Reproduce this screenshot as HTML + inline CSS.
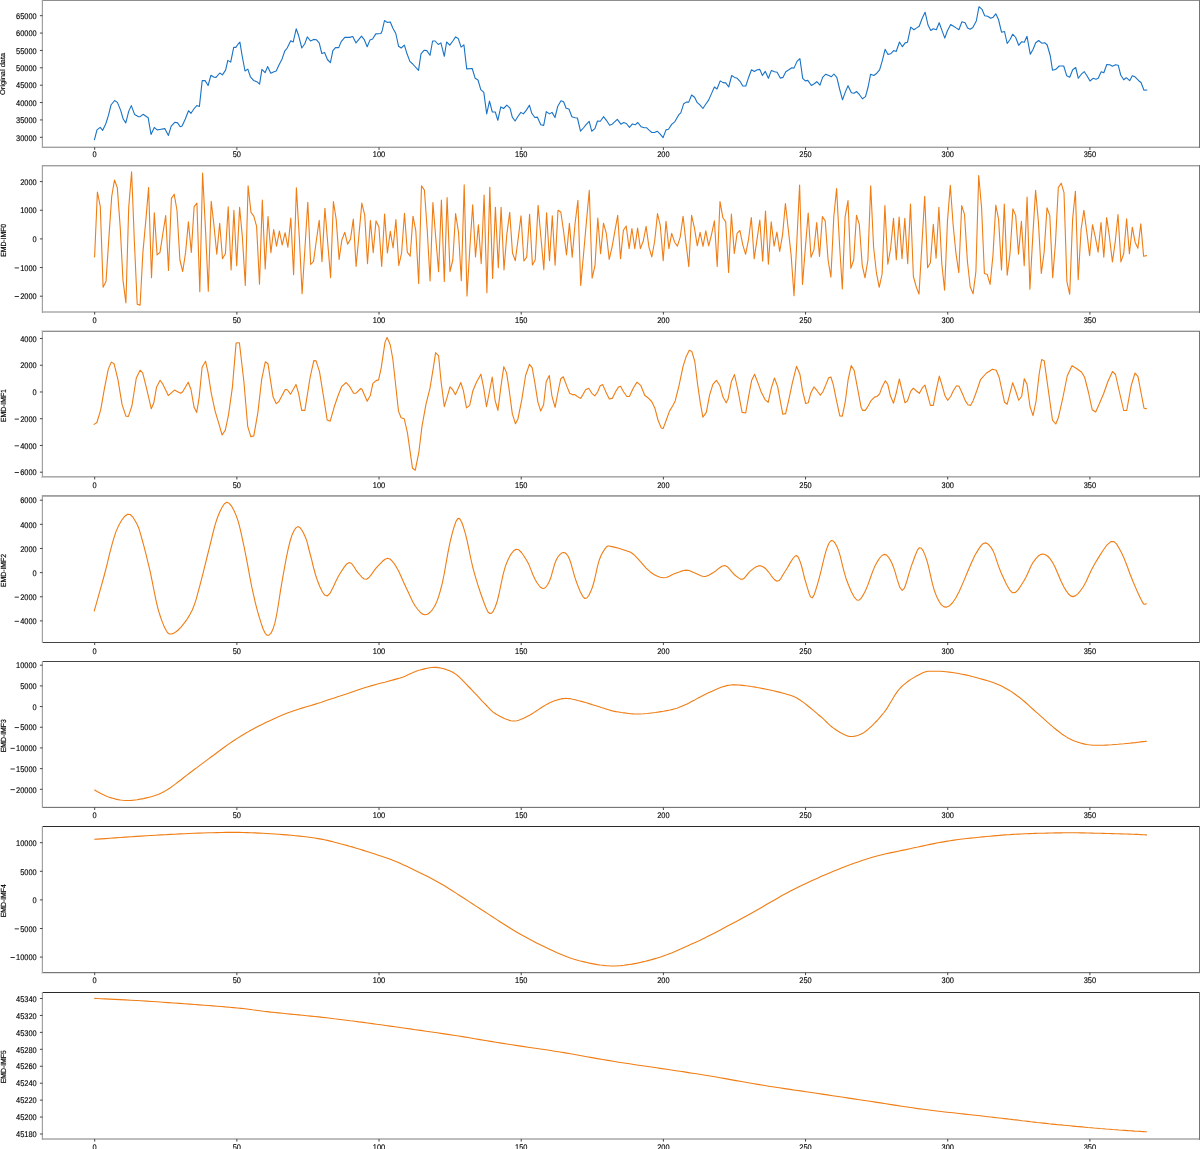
<!DOCTYPE html><html><head><meta charset="utf-8"><style>html,body{margin:0;padding:0;background:#fff;overflow:hidden;}svg{display:block;will-change:transform;}text{font-family:"Liberation Sans",sans-serif;text-rendering:geometricPrecision;}</style></head><body>
<svg shape-rendering="auto" width="1200" height="1149" viewBox="0 0 1200 1149">
<rect width="1200" height="1149" fill="#fff"/>
<path d="M94.4,139.8 L97.0,129.9 L100.2,127.4 L102.7,130.3 L105.9,123.5 L108.5,115.2 L111.0,105.0 L114.6,100.5 L117.4,102.4 L120.6,110.1 L123.2,119.0 L125.8,122.9 L128.7,111.4 L131.3,105.6 L134.7,114.6 L138.6,116.7 L140.2,116.7 L143.0,114.3 L148.2,117.8 L151.0,134.4 L154.3,127.4 L157.1,129.9 L159.7,129.5 L164.8,128.6 L168.4,135.4 L171.2,126.1 L175.0,122.2 L177.6,122.9 L180.2,126.7 L182.1,126.1 L185.3,119.0 L188.5,110.7 L191.0,113.3 L194.2,108.5 L196.8,105.6 L199.4,106.5 L202.2,80.6 L205.1,80.6 L208.1,85.5 L210.9,75.3 L214.1,77.2 L216.0,77.4 L219.8,73.0 L222.4,74.9 L225.6,70.1 L227.8,60.4 L230.7,62.1 L233.7,47.4 L235.8,47.4 L238.0,44.2 L239.9,42.2 L242.0,55.0 L245.0,71.0 L247.8,69.1 L250.4,76.8 L253.6,80.4 L256.8,81.7 L259.6,84.2 L261.9,69.4 L265.1,72.7 L267.6,66.6 L270.8,73.2 L273.4,71.9 L276.2,71.0 L279.2,64.6 L282.1,58.9 L284.7,51.2 L287.2,48.0 L290.7,40.7 L293.2,42.0 L296.2,28.8 L298.7,35.8 L301.8,48.0 L304.8,43.8 L307.3,36.9 L310.5,41.0 L313.7,39.4 L316.3,39.7 L319.2,42.9 L321.8,53.5 L324.6,52.5 L327.4,59.5 L330.4,62.7 L332.9,50.6 L335.5,47.6 L338.7,47.6 L341.2,41.6 L344.8,37.4 L349.6,37.4 L352.8,36.5 L356.0,42.9 L361.5,36.1 L364.3,39.7 L367.2,46.7 L370.0,39.9 L372.6,39.0 L375.8,33.9 L380.9,33.5 L382.2,30.7 L384.5,20.5 L387.1,22.4 L390.3,22.0 L392.9,28.2 L395.8,33.5 L398.6,46.3 L401.2,48.0 L404.4,45.1 L407.0,53.8 L409.9,61.4 L412.7,64.0 L418.5,70.4 L421.0,53.8 L424.2,50.2 L426.8,50.6 L430.0,55.3 L432.6,41.0 L435.1,41.0 L438.3,44.5 L440.9,42.9 L444.3,56.3 L446.6,42.0 L449.8,45.1 L453.0,40.7 L455.6,36.9 L458.2,38.4 L461.1,47.1 L463.9,44.8 L466.7,68.9 L472.2,68.5 L475.2,78.3 L478.0,80.0 L480.8,89.6 L483.8,92.4 L486.7,113.9 L489.5,101.1 L492.3,112.0 L495.3,112.0 L497.8,120.3 L500.8,106.9 L503.6,108.5 L506.8,105.2 L510.0,108.2 L512.3,117.1 L515.1,121.0 L517.9,116.5 L520.9,112.4 L523.4,113.9 L526.4,110.1 L529.4,105.2 L531.8,113.3 L534.8,117.5 L537.3,117.1 L540.8,124.8 L543.7,125.4 L546.3,111.6 L549.5,113.9 L552.0,112.4 L555.0,117.5 L557.8,106.2 L561.0,100.7 L563.6,101.8 L566.1,108.2 L568.9,109.0 L571.9,116.7 L575.1,117.8 L577.4,118.0 L580.5,131.2 L583.4,128.0 L586.3,124.4 L589.2,121.3 L591.7,131.2 L594.9,128.6 L597.5,121.0 L600.4,121.3 L603.5,116.7 L606.4,120.3 L609.6,125.2 L612.2,124.2 L617.3,119.3 L620.9,124.2 L623.7,122.6 L626.3,123.5 L629.5,127.4 L632.4,123.9 L635.2,124.8 L637.8,122.5 L641.0,126.7 L644.2,127.7 L646.5,127.7 L649.3,130.3 L651.9,132.5 L654.4,132.5 L657.2,131.2 L660.2,134.1 L663.1,137.6 L666.0,129.9 L668.5,129.3 L671.7,124.4 L674.9,121.6 L678.5,115.2 L680.9,112.6 L683.7,103.7 L686.2,102.1 L688.8,102.1 L691.6,95.0 L694.6,97.3 L697.1,102.4 L700.1,105.2 L702.9,108.5 L705.7,104.3 L708.6,100.1 L711.6,93.4 L714.4,87.0 L717.0,89.0 L720.2,80.9 L723.1,82.6 L725.7,82.9 L728.7,87.0 L731.7,75.5 L734.6,77.4 L737.2,78.3 L740.0,81.3 L742.8,86.0 L745.8,86.0 L748.3,78.3 L751.5,69.8 L754.3,71.4 L757.3,69.8 L759.8,69.4 L762.4,75.5 L765.3,71.4 L768.4,78.3 L771.4,70.4 L774.6,71.7 L777.1,72.3 L780.3,78.1 L782.9,77.4 L785.8,71.7 L788.9,69.8 L791.8,67.8 L794.0,68.1 L797.0,61.4 L799.9,58.6 L802.7,78.3 L805.3,80.9 L807.8,80.4 L811.4,85.5 L814.2,83.8 L816.8,81.7 L820.0,85.1 L822.6,77.4 L825.8,74.2 L828.8,75.5 L831.3,76.8 L833.9,74.0 L836.8,77.4 L839.6,89.0 L842.5,99.8 L845.4,91.9 L848.0,85.8 L851.4,92.8 L854.0,93.2 L856.5,91.5 L859.5,94.7 L862.4,98.8 L865.5,96.6 L868.1,87.0 L870.6,74.2 L873.9,75.5 L876.8,73.2 L879.6,69.8 L882.1,61.4 L885.1,49.3 L888.0,54.4 L890.6,53.8 L893.7,50.6 L896.2,51.5 L899.5,42.0 L902.4,46.7 L905.2,42.9 L907.5,42.2 L910.7,27.1 L913.9,29.7 L916.7,27.9 L919.2,26.2 L922.2,18.2 L925.1,12.2 L928.0,25.0 L930.8,30.5 L933.3,28.8 L936.3,29.7 L939.2,22.8 L942.3,31.4 L944.8,38.1 L947.4,30.7 L950.7,24.6 L953.6,26.2 L956.1,27.9 L958.9,29.7 L961.9,21.8 L965.1,22.8 L967.6,27.9 L970.2,29.2 L972.8,27.5 L976.3,21.0 L979.0,6.7 L982.0,9.3 L984.7,15.7 L987.7,16.2 L990.7,18.3 L993.2,17.2 L995.8,13.8 L998.5,19.5 L1001.5,32.2 L1004.5,31.5 L1007.2,43.5 L1010.2,39.3 L1012.7,34.2 L1015.7,37.5 L1018.7,45.3 L1021.7,41.7 L1024.3,42.3 L1027.0,36.3 L1030.3,54.3 L1033.0,49.5 L1035.7,42.7 L1038.7,40.5 L1041.7,43.2 L1044.7,42.7 L1047.2,45.0 L1050.2,55.5 L1052.5,70.2 L1055.8,69.3 L1059.2,66.0 L1063.7,66.0 L1066.7,75.7 L1069.7,77.2 L1072.7,69.7 L1075.7,67.5 L1078.3,78.3 L1081.3,74.2 L1084.3,71.7 L1087.0,75.7 L1090.0,81.0 L1093.0,78.3 L1096.0,79.2 L1098.2,78.3 L1101.2,71.7 L1103.8,72.7 L1106.8,64.5 L1109.8,64.8 L1112.5,66.3 L1115.5,64.8 L1118.2,65.2 L1120.7,75.0 L1123.7,79.8 L1126.3,77.7 L1129.7,80.7 L1132.3,75.7 L1135.0,76.8 L1138.7,80.7 L1141.0,82.5 L1144.0,90.3 L1147.0,90.0" fill="none" stroke="#1973c6" stroke-width="1.1" stroke-linejoin="round" stroke-linecap="round"/>
<rect x="41" y="0" width="1159" height="1" fill="rgb(142,142,142)"/>
<rect x="41" y="146" width="1159" height="1" fill="rgb(220,220,220)"/>
<rect x="41" y="147" width="1159" height="1" fill="rgb(160,160,160)"/>
<rect x="41" y="0" width="1" height="148" fill="rgb(236,236,236)"/>
<rect x="42" y="0" width="1" height="148" fill="rgb(160,160,160)"/>
<rect x="1199" y="0" width="1" height="148" fill="rgb(116,116,116)"/>
<line x1="39.9" y1="137.30" x2="42.5" y2="137.30" stroke="#333" stroke-width="0.9"/>
<text transform="translate(36.75,140.50) scale(0.07421,0.08200)" font-size="100" text-anchor="end" fill="#000" stroke="#000" stroke-width="1.6">30000</text>
<line x1="39.9" y1="119.93" x2="42.5" y2="119.93" stroke="#333" stroke-width="0.9"/>
<text transform="translate(36.75,123.13) scale(0.07421,0.08200)" font-size="100" text-anchor="end" fill="#000" stroke="#000" stroke-width="1.6">35000</text>
<line x1="39.9" y1="102.56" x2="42.5" y2="102.56" stroke="#333" stroke-width="0.9"/>
<text transform="translate(36.75,105.76) scale(0.07421,0.08200)" font-size="100" text-anchor="end" fill="#000" stroke="#000" stroke-width="1.6">40000</text>
<line x1="39.9" y1="85.19" x2="42.5" y2="85.19" stroke="#333" stroke-width="0.9"/>
<text transform="translate(36.75,88.39) scale(0.07421,0.08200)" font-size="100" text-anchor="end" fill="#000" stroke="#000" stroke-width="1.6">45000</text>
<line x1="39.9" y1="67.81" x2="42.5" y2="67.81" stroke="#333" stroke-width="0.9"/>
<text transform="translate(36.75,71.01) scale(0.07421,0.08200)" font-size="100" text-anchor="end" fill="#000" stroke="#000" stroke-width="1.6">50000</text>
<line x1="39.9" y1="50.44" x2="42.5" y2="50.44" stroke="#333" stroke-width="0.9"/>
<text transform="translate(36.75,53.64) scale(0.07421,0.08200)" font-size="100" text-anchor="end" fill="#000" stroke="#000" stroke-width="1.6">55000</text>
<line x1="39.9" y1="33.07" x2="42.5" y2="33.07" stroke="#333" stroke-width="0.9"/>
<text transform="translate(36.75,36.27) scale(0.07421,0.08200)" font-size="100" text-anchor="end" fill="#000" stroke="#000" stroke-width="1.6">60000</text>
<line x1="39.9" y1="15.70" x2="42.5" y2="15.70" stroke="#333" stroke-width="0.9"/>
<text transform="translate(36.75,18.90) scale(0.07421,0.08200)" font-size="100" text-anchor="end" fill="#000" stroke="#000" stroke-width="1.6">65000</text>
<line x1="94.68" y1="147.3" x2="94.68" y2="149.9" stroke="#333" stroke-width="0.9"/>
<text transform="translate(94.68,157.20) scale(0.07421,0.08200)" font-size="100" text-anchor="middle" fill="#000" stroke="#000" stroke-width="1.6">0</text>
<line x1="236.86" y1="147.3" x2="236.86" y2="149.9" stroke="#333" stroke-width="0.9"/>
<text transform="translate(236.86,157.20) scale(0.07421,0.08200)" font-size="100" text-anchor="middle" fill="#000" stroke="#000" stroke-width="1.6">50</text>
<line x1="379.03" y1="147.3" x2="379.03" y2="149.9" stroke="#333" stroke-width="0.9"/>
<text transform="translate(379.03,157.20) scale(0.07421,0.08200)" font-size="100" text-anchor="middle" fill="#000" stroke="#000" stroke-width="1.6">100</text>
<line x1="521.21" y1="147.3" x2="521.21" y2="149.9" stroke="#333" stroke-width="0.9"/>
<text transform="translate(521.21,157.20) scale(0.07421,0.08200)" font-size="100" text-anchor="middle" fill="#000" stroke="#000" stroke-width="1.6">150</text>
<line x1="663.38" y1="147.3" x2="663.38" y2="149.9" stroke="#333" stroke-width="0.9"/>
<text transform="translate(663.38,157.20) scale(0.07421,0.08200)" font-size="100" text-anchor="middle" fill="#000" stroke="#000" stroke-width="1.6">200</text>
<line x1="805.56" y1="147.3" x2="805.56" y2="149.9" stroke="#333" stroke-width="0.9"/>
<text transform="translate(805.56,157.20) scale(0.07421,0.08200)" font-size="100" text-anchor="middle" fill="#000" stroke="#000" stroke-width="1.6">250</text>
<line x1="947.73" y1="147.3" x2="947.73" y2="149.9" stroke="#333" stroke-width="0.9"/>
<text transform="translate(947.73,157.20) scale(0.07421,0.08200)" font-size="100" text-anchor="middle" fill="#000" stroke="#000" stroke-width="1.6">300</text>
<line x1="1089.90" y1="147.3" x2="1089.90" y2="149.9" stroke="#333" stroke-width="0.9"/>
<text transform="translate(1089.90,157.20) scale(0.07421,0.08200)" font-size="100" text-anchor="middle" fill="#000" stroke="#000" stroke-width="1.6">350</text>
<text transform="translate(5.2,73.90) rotate(-90) scale(0.0742,0.07)" font-size="100" text-anchor="middle" fill="#000" stroke="#000" stroke-width="2">Original data</text>
<path d="M94.6,256.9 L97.4,192.0 L100.3,206.7 L103.1,287.3 L106.0,281.6 L108.8,239.1 L111.7,196.5 L114.5,180.0 L117.3,187.6 L120.2,227.0 L123.0,280.4 L125.9,303.0 L128.7,207.9 L131.6,171.7 L134.4,242.2 L137.2,304.2 L140.1,305.1 L142.9,252.4 L145.8,220.6 L148.6,187.6 L151.5,277.8 L154.3,212.8 L157.1,254.9 L160.0,252.4 L162.8,234.0 L165.7,215.6 L168.5,270.4 L171.4,198.4 L174.2,194.2 L177.0,210.5 L179.9,260.0 L182.7,271.5 L185.6,252.4 L188.4,221.9 L191.3,252.4 L194.1,206.7 L196.9,203.1 L199.8,291.8 L202.6,173.0 L205.5,229.5 L208.3,291.2 L211.2,201.3 L214.0,225.7 L216.8,254.3 L219.7,223.2 L222.5,258.8 L225.4,253.7 L228.2,206.9 L231.1,269.9 L233.9,210.2 L236.7,265.7 L239.6,207.3 L242.4,237.2 L245.3,285.4 L248.1,185.7 L251.0,212.4 L253.8,216.2 L256.6,226.4 L259.5,284.2 L262.3,200.1 L265.2,268.9 L268.0,216.6 L270.9,252.7 L273.7,229.5 L276.5,246.1 L279.4,231.1 L282.2,245.0 L285.1,232.7 L287.9,247.3 L290.8,218.1 L293.6,274.6 L296.4,187.9 L299.3,237.2 L302.1,293.7 L305.0,247.3 L307.8,202.2 L310.7,264.5 L313.5,261.3 L316.3,241.0 L319.2,220.4 L322.0,261.6 L324.9,208.2 L327.7,242.9 L330.6,277.6 L333.4,201.6 L336.2,219.4 L339.1,259.4 L341.9,239.7 L344.8,232.3 L347.6,244.1 L350.5,239.1 L353.3,219.1 L356.1,266.4 L359.0,234.6 L361.8,203.1 L364.7,214.9 L367.5,263.6 L370.4,220.6 L373.2,252.7 L376.0,220.9 L378.9,226.7 L381.7,266.4 L384.6,214.0 L387.4,253.0 L390.3,231.4 L393.1,248.0 L395.9,219.6 L398.8,265.4 L401.6,253.0 L404.5,213.3 L407.3,252.1 L410.2,256.2 L413.0,216.2 L415.8,230.8 L418.7,283.5 L421.5,185.7 L424.4,190.1 L427.2,229.5 L430.1,281.0 L432.9,202.6 L435.7,237.2 L438.6,271.7 L441.4,200.1 L444.3,281.4 L447.1,197.5 L450.0,271.7 L452.8,260.0 L455.6,213.6 L458.5,232.1 L461.3,280.6 L464.2,184.8 L467.0,295.9 L469.9,247.3 L472.7,204.8 L475.5,256.9 L478.4,224.7 L481.2,263.6 L484.1,195.0 L486.9,292.8 L489.8,187.3 L492.6,278.5 L495.4,207.3 L498.3,267.7 L501.1,207.3 L504.0,269.9 L506.8,234.6 L509.7,212.4 L512.5,253.0 L515.3,260.7 L518.2,238.4 L521.0,215.8 L523.9,261.0 L526.7,257.2 L529.6,214.3 L532.4,264.9 L535.2,260.0 L538.1,205.4 L540.9,237.2 L543.8,269.6 L546.6,212.8 L549.5,260.7 L552.3,215.8 L555.1,265.1 L558.0,210.2 L560.8,212.0 L563.7,232.1 L566.5,254.9 L569.4,223.4 L572.2,257.2 L575.1,223.2 L577.9,200.3 L580.7,285.4 L583.6,253.7 L586.4,221.9 L589.3,190.4 L592.1,278.1 L595.0,265.7 L597.8,218.1 L600.6,253.7 L603.5,223.2 L606.3,233.3 L609.2,259.4 L612.0,247.3 L614.9,230.8 L617.7,215.3 L620.5,258.8 L623.4,230.2 L626.2,226.0 L629.1,248.6 L631.9,228.5 L634.8,248.6 L637.6,228.0 L640.4,248.6 L643.3,241.0 L646.1,226.4 L649.0,247.3 L651.8,256.9 L654.7,241.0 L657.5,213.6 L660.3,225.7 L663.2,260.7 L666.0,221.3 L668.9,248.6 L671.7,233.3 L674.6,242.2 L677.4,246.1 L680.2,237.2 L683.1,216.2 L685.9,242.2 L688.8,266.6 L691.6,215.3 L694.5,228.3 L697.3,245.8 L700.1,232.3 L703.0,246.3 L705.8,230.8 L708.7,245.8 L711.5,234.6 L714.4,220.9 L717.2,266.4 L720.0,201.6 L722.9,217.8 L725.7,221.9 L728.6,272.5 L731.4,214.0 L734.3,253.4 L737.1,233.3 L739.9,230.5 L742.8,244.8 L745.6,254.3 L748.5,239.7 L751.3,217.5 L754.2,258.8 L757.0,239.7 L759.8,220.0 L762.7,261.3 L765.5,211.1 L768.4,264.1 L771.2,221.9 L774.1,246.1 L776.9,232.1 L779.7,251.4 L782.6,234.6 L785.4,203.5 L788.3,229.5 L791.1,254.9 L794.0,295.6 L796.8,242.2 L799.6,185.1 L802.5,284.4 L805.3,248.6 L808.2,213.0 L811.0,257.2 L813.9,249.9 L816.7,222.5 L819.5,256.5 L822.4,216.6 L825.2,220.9 L828.1,260.0 L830.9,277.2 L833.8,216.8 L836.6,188.6 L839.4,242.2 L842.3,289.0 L845.1,216.8 L848.0,200.6 L850.8,268.3 L853.7,260.0 L856.5,215.3 L859.3,224.4 L862.2,265.1 L865.0,277.8 L867.9,260.0 L870.7,185.7 L873.6,247.3 L876.4,272.7 L879.2,287.3 L882.1,274.0 L884.9,205.6 L887.8,264.1 L890.6,248.6 L893.5,218.4 L896.3,259.8 L899.1,217.1 L902.0,258.8 L904.8,218.4 L907.7,263.6 L910.5,204.1 L913.4,276.5 L916.2,286.7 L919.0,294.1 L921.9,244.8 L924.7,196.2 L927.6,267.7 L930.4,262.8 L933.3,224.2 L936.1,258.1 L938.9,207.3 L941.8,263.8 L944.6,290.3 L947.5,220.6 L950.3,185.3 L953.2,225.7 L956.0,253.7 L958.8,272.7 L961.7,205.6 L964.5,214.3 L967.4,261.3 L970.2,286.7 L973.1,293.7 L975.9,271.5 L978.7,175.5 L981.6,207.9 L984.4,273.4 L987.3,274.6 L990.1,284.4 L993.0,254.9 L995.8,205.1 L998.6,219.4 L1001.5,269.9 L1004.3,204.1 L1007.2,275.3 L1010.0,253.7 L1012.9,208.9 L1015.7,215.6 L1018.5,254.3 L1021.4,221.3 L1024.2,265.7 L1027.1,197.1 L1029.9,289.3 L1032.8,235.9 L1035.6,190.4 L1038.4,221.9 L1041.3,273.4 L1044.1,252.4 L1047.0,207.7 L1049.8,215.6 L1052.7,277.8 L1055.5,242.2 L1058.3,187.6 L1061.2,183.2 L1064.0,192.7 L1066.9,281.6 L1069.7,294.3 L1072.6,219.4 L1075.4,191.2 L1078.2,279.7 L1081.1,229.5 L1083.9,210.2 L1086.8,232.1 L1089.6,255.6 L1092.5,224.7 L1095.3,237.2 L1098.1,252.1 L1101.0,222.5 L1103.8,257.2 L1106.7,217.5 L1109.5,237.2 L1112.4,261.9 L1115.2,242.2 L1118.0,214.5 L1120.9,261.9 L1123.7,253.7 L1126.6,218.7 L1129.4,253.7 L1132.3,227.2 L1135.1,242.2 L1137.9,248.3 L1140.8,223.8 L1143.6,256.2 L1146.5,255.6" fill="none" stroke="#f07d14" stroke-width="1.1" stroke-linejoin="round" stroke-linecap="round"/>
<rect x="41" y="165" width="1159" height="1" fill="rgb(160,160,160)"/>
<rect x="41" y="166" width="1159" height="1" fill="rgb(215,215,215)"/>
<rect x="41" y="311" width="1159" height="1" fill="rgb(192,192,192)"/>
<rect x="41" y="312" width="1159" height="1" fill="rgb(192,192,192)"/>
<rect x="41" y="165" width="1" height="148" fill="rgb(236,236,236)"/>
<rect x="42" y="165" width="1" height="148" fill="rgb(160,160,160)"/>
<rect x="1199" y="165" width="1" height="148" fill="rgb(116,116,116)"/>
<line x1="39.9" y1="296.20" x2="42.5" y2="296.20" stroke="#333" stroke-width="0.9"/>
<text transform="translate(36.75,299.40) scale(0.07421,0.08200)" font-size="100" text-anchor="end" fill="#000" stroke="#000" stroke-width="1.6">2000</text>
<rect x="14.65" y="296.15" width="4.3" height="0.85" fill="#111"/>
<line x1="39.9" y1="267.55" x2="42.5" y2="267.55" stroke="#333" stroke-width="0.9"/>
<text transform="translate(36.75,270.75) scale(0.07421,0.08200)" font-size="100" text-anchor="end" fill="#000" stroke="#000" stroke-width="1.6">1000</text>
<rect x="14.65" y="267.50" width="4.3" height="0.85" fill="#111"/>
<line x1="39.9" y1="238.90" x2="42.5" y2="238.90" stroke="#333" stroke-width="0.9"/>
<text transform="translate(36.75,242.10) scale(0.07421,0.08200)" font-size="100" text-anchor="end" fill="#000" stroke="#000" stroke-width="1.6">0</text>
<line x1="39.9" y1="210.25" x2="42.5" y2="210.25" stroke="#333" stroke-width="0.9"/>
<text transform="translate(36.75,213.45) scale(0.07421,0.08200)" font-size="100" text-anchor="end" fill="#000" stroke="#000" stroke-width="1.6">1000</text>
<line x1="39.9" y1="181.60" x2="42.5" y2="181.60" stroke="#333" stroke-width="0.9"/>
<text transform="translate(36.75,184.80) scale(0.07421,0.08200)" font-size="100" text-anchor="end" fill="#000" stroke="#000" stroke-width="1.6">2000</text>
<line x1="94.68" y1="312.0" x2="94.68" y2="314.6" stroke="#333" stroke-width="0.9"/>
<text transform="translate(94.68,323.00) scale(0.07421,0.08200)" font-size="100" text-anchor="middle" fill="#000" stroke="#000" stroke-width="1.6">0</text>
<line x1="236.86" y1="312.0" x2="236.86" y2="314.6" stroke="#333" stroke-width="0.9"/>
<text transform="translate(236.86,323.00) scale(0.07421,0.08200)" font-size="100" text-anchor="middle" fill="#000" stroke="#000" stroke-width="1.6">50</text>
<line x1="379.03" y1="312.0" x2="379.03" y2="314.6" stroke="#333" stroke-width="0.9"/>
<text transform="translate(379.03,323.00) scale(0.07421,0.08200)" font-size="100" text-anchor="middle" fill="#000" stroke="#000" stroke-width="1.6">100</text>
<line x1="521.21" y1="312.0" x2="521.21" y2="314.6" stroke="#333" stroke-width="0.9"/>
<text transform="translate(521.21,323.00) scale(0.07421,0.08200)" font-size="100" text-anchor="middle" fill="#000" stroke="#000" stroke-width="1.6">150</text>
<line x1="663.38" y1="312.0" x2="663.38" y2="314.6" stroke="#333" stroke-width="0.9"/>
<text transform="translate(663.38,323.00) scale(0.07421,0.08200)" font-size="100" text-anchor="middle" fill="#000" stroke="#000" stroke-width="1.6">200</text>
<line x1="805.56" y1="312.0" x2="805.56" y2="314.6" stroke="#333" stroke-width="0.9"/>
<text transform="translate(805.56,323.00) scale(0.07421,0.08200)" font-size="100" text-anchor="middle" fill="#000" stroke="#000" stroke-width="1.6">250</text>
<line x1="947.73" y1="312.0" x2="947.73" y2="314.6" stroke="#333" stroke-width="0.9"/>
<text transform="translate(947.73,323.00) scale(0.07421,0.08200)" font-size="100" text-anchor="middle" fill="#000" stroke="#000" stroke-width="1.6">300</text>
<line x1="1089.90" y1="312.0" x2="1089.90" y2="314.6" stroke="#333" stroke-width="0.9"/>
<text transform="translate(1089.90,323.00) scale(0.07421,0.08200)" font-size="100" text-anchor="middle" fill="#000" stroke="#000" stroke-width="1.6">350</text>
<text transform="translate(6.0,240.35) rotate(-90) scale(0.068,0.074)" font-size="100" text-anchor="middle" fill="#000" stroke="#000" stroke-width="2">EMD-IMF0</text>
<path d="M94.1,424.4 L96.9,422.5 L100.7,409.8 L104.5,388.2 L108.3,369.1 L111.3,362.1 L114.1,363.8 L117.9,379.3 L122.1,404.7 L125.9,416.2 L128.4,416.4 L131.9,406.0 L136.3,378.0 L140.1,370.2 L142.7,372.9 L147.1,390.7 L151.3,408.8 L153.8,402.8 L156.6,386.9 L160.1,380.3 L163.0,384.4 L168.3,395.6 L174.4,390.1 L180.5,393.3 L182.7,391.8 L188.2,382.2 L191.0,389.5 L194.1,407.3 L196.7,412.4 L199.2,397.1 L202.1,367.2 L205.6,361.3 L208.1,372.9 L211.3,393.3 L215.1,411.1 L218.9,423.8 L222.1,435.0 L225.3,430.1 L228.5,414.9 L232.3,388.2 L236.1,343.1 L238.0,342.7 L239.4,342.7 L243.9,381.8 L247.7,426.3 L250.9,436.8 L253.8,435.9 L257.9,412.4 L261.7,379.3 L265.3,361.8 L268.0,363.8 L273.1,397.1 L276.3,403.7 L278.9,401.5 L285.2,389.5 L287.4,389.7 L290.5,394.2 L296.0,384.4 L298.6,393.3 L301.7,410.4 L304.9,410.4 L310.0,378.0 L313.8,360.6 L316.1,360.9 L319.5,371.7 L324.0,399.6 L327.2,420.0 L330.1,421.3 L334.1,407.3 L338.0,395.8 L341.8,386.3 L346.2,382.5 L350.0,386.9 L353.5,393.3 L355.8,393.3 L360.8,388.5 L362.1,389.5 L367.2,401.2 L370.4,395.2 L372.9,383.4 L376.1,380.6 L378.6,379.9 L381.2,367.9 L385.0,342.4 L387.1,337.4 L390.3,345.0 L392.8,359.0 L395.3,381.8 L398.5,411.1 L401.1,417.7 L404.2,418.7 L407.4,432.7 L412.5,468.3 L415.3,470.2 L418.9,451.8 L422.0,426.3 L425.9,404.7 L430.0,388.2 L433.5,366.6 L435.6,352.6 L438.6,355.8 L441.1,381.8 L444.3,406.6 L446.8,398.4 L450.0,386.9 L452.5,389.5 L455.5,394.6 L460.8,382.5 L463.4,390.7 L466.5,407.9 L469.7,405.4 L472.9,390.7 L476.7,381.8 L480.9,374.2 L483.7,388.2 L486.5,406.6 L489.4,392.0 L492.2,377.0 L495.1,400.3 L497.9,410.4 L500.9,386.9 L503.8,366.6 L506.6,372.9 L509.1,389.5 L512.3,413.6 L515.5,423.8 L518.0,418.7 L521.8,399.6 L525.6,375.5 L529.5,364.3 L532.2,367.9 L534.7,381.8 L537.9,402.2 L540.7,411.1 L543.6,404.7 L546.2,381.8 L549.3,375.5 L551.9,395.8 L555.1,407.3 L558.0,392.0 L560.8,378.7 L563.3,376.8 L567.1,386.9 L569.7,393.3 L572.2,394.6 L574.8,394.6 L577.3,396.5 L580.5,398.4 L583.0,394.6 L585.6,389.7 L588.7,388.2 L591.9,393.3 L594.8,395.8 L597.6,392.0 L600.2,385.7 L602.7,384.6 L605.9,392.0 L609.3,399.0 L612.3,398.4 L615.4,392.0 L618.6,386.9 L620.5,386.3 L623.7,392.0 L626.9,396.5 L629.4,396.5 L633.2,388.2 L637.0,382.1 L640.9,385.7 L644.7,395.2 L647.9,397.7 L651.7,401.5 L654.8,407.9 L658.0,420.0 L661.2,427.9 L663.1,428.6 L666.3,420.0 L669.5,411.1 L672.6,406.0 L675.2,400.9 L679.0,385.7 L683.0,366.6 L686.2,356.4 L689.3,350.3 L691.9,351.6 L694.8,361.5 L697.6,384.4 L700.2,402.2 L702.9,417.2 L706.3,412.4 L709.7,394.6 L712.9,384.4 L716.4,380.3 L719.9,385.7 L723.0,397.1 L726.2,402.8 L728.1,399.0 L731.3,381.8 L734.5,374.5 L738.3,392.0 L742.1,412.4 L745.7,413.0 L748.5,397.1 L751.6,380.6 L754.6,374.2 L758.0,383.1 L761.2,392.0 L765.0,399.6 L768.2,402.4 L771.3,388.2 L774.5,378.0 L777.7,386.9 L782.8,414.3 L785.6,413.6 L789.1,398.4 L792.3,383.1 L796.5,366.3 L799.9,374.2 L802.5,390.7 L805.7,403.5 L808.2,402.8 L810.7,393.3 L813.9,386.9 L817.1,390.7 L820.3,395.2 L822.8,392.0 L826.0,384.4 L828.7,377.8 L830.9,377.0 L833.2,384.4 L836.3,399.6 L839.8,415.9 L842.3,416.2 L845.2,402.2 L848.2,379.3 L851.2,365.6 L854.1,370.2 L857.3,386.9 L861.1,407.3 L862.7,410.4 L865.3,410.4 L868.1,406.0 L871.3,400.3 L874.5,397.1 L877.0,396.5 L879.6,393.9 L882.1,386.9 L885.3,380.8 L887.8,384.4 L890.4,395.8 L893.5,403.2 L896.5,392.0 L899.3,379.0 L902.1,390.7 L905.0,402.8 L907.5,400.9 L910.7,391.4 L913.3,388.2 L916.4,391.0 L919.4,393.3 L922.1,388.2 L924.9,385.0 L927.9,395.8 L930.4,405.4 L933.3,405.4 L936.1,390.7 L939.3,376.1 L942.5,386.9 L945.0,395.8 L947.6,400.3 L950.7,396.5 L953.3,390.7 L956.5,385.7 L959.0,386.3 L962.2,393.3 L965.4,400.9 L967.9,404.7 L970.5,405.4 L973.0,400.9 L976.7,391.0 L980.5,379.7 L986.5,373.0 L992.5,369.2 L996.2,370.3 L999.2,377.5 L1004.5,402.2 L1007.2,404.2 L1012.7,382.7 L1015.7,391.0 L1018.7,400.3 L1021.7,396.2 L1024.3,378.7 L1027.0,384.2 L1030.0,406.7 L1033.0,415.7 L1036.0,401.5 L1039.3,373.0 L1041.7,359.5 L1044.2,360.7 L1048.0,388.0 L1052.5,420.2 L1055.8,424.0 L1058.5,417.2 L1063.0,397.0 L1067.2,376.0 L1072.0,365.8 L1076.5,368.5 L1081.7,372.2 L1084.7,377.5 L1088.5,392.5 L1092.2,409.7 L1095.7,412.0 L1099.0,404.5 L1103.5,394.0 L1108.0,381.2 L1112.5,371.5 L1115.5,374.5 L1119.2,391.0 L1123.7,410.5 L1126.7,410.5 L1131.2,385.7 L1135.0,373.0 L1138.0,376.7 L1141.0,392.5 L1144.0,408.2 L1146.7,408.7" fill="none" stroke="#f07d14" stroke-width="1.1" stroke-linejoin="round" stroke-linecap="round"/>
<rect x="41" y="330" width="1159" height="1" fill="rgb(215,215,215)"/>
<rect x="41" y="331" width="1159" height="1" fill="rgb(144,144,144)"/>
<rect x="41" y="476" width="1159" height="1" fill="rgb(170,170,170)"/>
<rect x="41" y="477" width="1159" height="1" fill="rgb(205,205,205)"/>
<rect x="41" y="331" width="1" height="146" fill="rgb(236,236,236)"/>
<rect x="42" y="331" width="1" height="146" fill="rgb(160,160,160)"/>
<rect x="1199" y="331" width="1" height="146" fill="rgb(116,116,116)"/>
<line x1="39.9" y1="472.20" x2="42.5" y2="472.20" stroke="#333" stroke-width="0.9"/>
<text transform="translate(36.75,475.40) scale(0.07421,0.08200)" font-size="100" text-anchor="end" fill="#000" stroke="#000" stroke-width="1.6">6000</text>
<rect x="14.65" y="472.15" width="4.3" height="0.85" fill="#111"/>
<line x1="39.9" y1="445.46" x2="42.5" y2="445.46" stroke="#333" stroke-width="0.9"/>
<text transform="translate(36.75,448.66) scale(0.07421,0.08200)" font-size="100" text-anchor="end" fill="#000" stroke="#000" stroke-width="1.6">4000</text>
<rect x="14.65" y="445.41" width="4.3" height="0.85" fill="#111"/>
<line x1="39.9" y1="418.72" x2="42.5" y2="418.72" stroke="#333" stroke-width="0.9"/>
<text transform="translate(36.75,421.92) scale(0.07421,0.08200)" font-size="100" text-anchor="end" fill="#000" stroke="#000" stroke-width="1.6">2000</text>
<rect x="14.65" y="418.67" width="4.3" height="0.85" fill="#111"/>
<line x1="39.9" y1="391.98" x2="42.5" y2="391.98" stroke="#333" stroke-width="0.9"/>
<text transform="translate(36.75,395.18) scale(0.07421,0.08200)" font-size="100" text-anchor="end" fill="#000" stroke="#000" stroke-width="1.6">0</text>
<line x1="39.9" y1="365.24" x2="42.5" y2="365.24" stroke="#333" stroke-width="0.9"/>
<text transform="translate(36.75,368.44) scale(0.07421,0.08200)" font-size="100" text-anchor="end" fill="#000" stroke="#000" stroke-width="1.6">2000</text>
<line x1="39.9" y1="338.50" x2="42.5" y2="338.50" stroke="#333" stroke-width="0.9"/>
<text transform="translate(36.75,341.70) scale(0.07421,0.08200)" font-size="100" text-anchor="end" fill="#000" stroke="#000" stroke-width="1.6">4000</text>
<line x1="94.68" y1="476.9" x2="94.68" y2="479.5" stroke="#333" stroke-width="0.9"/>
<text transform="translate(94.68,487.90) scale(0.07421,0.08200)" font-size="100" text-anchor="middle" fill="#000" stroke="#000" stroke-width="1.6">0</text>
<line x1="236.86" y1="476.9" x2="236.86" y2="479.5" stroke="#333" stroke-width="0.9"/>
<text transform="translate(236.86,487.90) scale(0.07421,0.08200)" font-size="100" text-anchor="middle" fill="#000" stroke="#000" stroke-width="1.6">50</text>
<line x1="379.03" y1="476.9" x2="379.03" y2="479.5" stroke="#333" stroke-width="0.9"/>
<text transform="translate(379.03,487.90) scale(0.07421,0.08200)" font-size="100" text-anchor="middle" fill="#000" stroke="#000" stroke-width="1.6">100</text>
<line x1="521.21" y1="476.9" x2="521.21" y2="479.5" stroke="#333" stroke-width="0.9"/>
<text transform="translate(521.21,487.90) scale(0.07421,0.08200)" font-size="100" text-anchor="middle" fill="#000" stroke="#000" stroke-width="1.6">150</text>
<line x1="663.38" y1="476.9" x2="663.38" y2="479.5" stroke="#333" stroke-width="0.9"/>
<text transform="translate(663.38,487.90) scale(0.07421,0.08200)" font-size="100" text-anchor="middle" fill="#000" stroke="#000" stroke-width="1.6">200</text>
<line x1="805.56" y1="476.9" x2="805.56" y2="479.5" stroke="#333" stroke-width="0.9"/>
<text transform="translate(805.56,487.90) scale(0.07421,0.08200)" font-size="100" text-anchor="middle" fill="#000" stroke="#000" stroke-width="1.6">250</text>
<line x1="947.73" y1="476.9" x2="947.73" y2="479.5" stroke="#333" stroke-width="0.9"/>
<text transform="translate(947.73,487.90) scale(0.07421,0.08200)" font-size="100" text-anchor="middle" fill="#000" stroke="#000" stroke-width="1.6">300</text>
<line x1="1089.90" y1="476.9" x2="1089.90" y2="479.5" stroke="#333" stroke-width="0.9"/>
<text transform="translate(1089.90,487.90) scale(0.07421,0.08200)" font-size="100" text-anchor="middle" fill="#000" stroke="#000" stroke-width="1.6">350</text>
<text transform="translate(6.0,405.60) rotate(-90) scale(0.068,0.074)" font-size="100" text-anchor="middle" fill="#000" stroke="#000" stroke-width="2">EMD-IMF1</text>
<path d="M94.2,611.0 L96.0,604.8 L98.5,595.9 L101.4,585.7 L104.2,575.5 L107.0,564.7 L109.8,552.9 L112.8,541.6 L115.7,532.4 L118.7,525.4 L121.8,520.0 L124.8,516.2 L127.6,514.2 L130.2,514.5 L132.6,516.8 L134.8,520.2 L136.8,523.8 L138.4,527.2 L139.7,531.1 L141.0,535.6 L142.5,541.0 L144.3,547.6 L146.2,555.2 L148.2,563.3 L150.2,571.7 L152.1,580.8 L154.0,590.5 L155.9,599.9 L157.8,608.1 L159.8,614.8 L161.8,620.6 L163.7,625.4 L165.5,629.2 L167.0,631.8 L168.3,633.3 L169.6,634.0 L171.3,634.0 L173.4,633.4 L175.7,632.0 L178.2,630.0 L180.8,627.3 L183.6,623.9 L186.7,619.8 L189.6,615.1 L192.3,610.0 L194.4,604.6 L196.3,598.9 L198.0,592.4 L200.0,585.1 L202.3,576.2 L204.8,566.2 L207.3,556.0 L209.6,546.8 L211.6,538.6 L213.5,531.0 L215.3,524.1 L217.3,518.0 L219.5,512.5 L221.9,507.5 L224.4,503.8 L226.8,502.3 L229.2,503.3 L231.7,506.3 L234.1,510.8 L236.4,516.1 L238.5,522.4 L240.4,529.8 L242.2,538.1 L244.1,546.8 L246.0,556.4 L248.0,566.9 L249.9,577.4 L251.8,587.0 L253.7,595.6 L255.6,603.8 L257.5,611.2 L259.4,617.7 L261.3,623.7 L263.2,629.2 L265.2,633.3 L267.1,635.3 L269.0,635.2 L271.0,633.2 L272.9,629.3 L274.8,623.4 L276.7,614.5 L278.6,603.0 L280.5,590.7 L282.4,579.3 L284.3,568.8 L286.2,558.3 L288.2,548.8 L290.1,541.0 L292.0,535.1 L294.0,530.7 L295.9,527.9 L297.8,526.6 L299.8,527.4 L301.8,530.0 L303.7,533.6 L305.4,537.2 L306.7,540.6 L307.7,544.3 L308.7,548.5 L310.0,553.5 L311.7,559.9 L313.5,567.5 L315.6,575.0 L317.7,581.3 L319.9,586.7 L322.3,591.7 L324.7,595.1 L327.3,596.0 L330.1,593.2 L333.0,587.5 L336.0,580.9 L338.8,575.5 L341.5,571.2 L344.2,567.1 L346.8,563.9 L349.3,562.5 L351.6,563.5 L353.7,566.3 L355.8,569.8 L357.9,572.6 L360.0,575.0 L362.1,577.4 L364.2,579.0 L366.5,579.3 L369.0,577.5 L371.7,574.1 L374.4,570.2 L377.1,566.9 L379.8,564.1 L382.5,561.3 L385.1,559.2 L387.6,558.3 L389.9,559.0 L392.0,560.8 L394.1,563.5 L396.3,566.9 L398.6,571.1 L401.0,576.3 L403.4,581.8 L405.8,587.0 L408.2,592.1 L410.6,597.3 L413.0,602.2 L415.4,606.2 L417.8,609.5 L420.2,612.2 L422.6,614.1 L425.0,614.8 L427.4,614.2 L429.9,612.5 L432.3,609.8 L434.6,606.2 L436.7,601.9 L438.6,596.7 L440.4,590.5 L442.3,583.2 L444.2,574.0 L446.1,563.1 L448.0,552.3 L449.9,542.9 L451.9,534.7 L454.0,527.2 L456.0,521.4 L458.0,518.4 L459.9,518.9 L461.7,522.2 L463.5,527.3 L465.3,533.3 L467.1,540.6 L469.0,549.6 L470.9,559.0 L472.9,567.8 L475.2,576.1 L477.7,584.4 L480.2,592.0 L482.5,598.5 L484.5,604.0 L486.3,608.6 L488.0,612.0 L489.8,613.5 L491.6,613.1 L493.3,611.1 L495.0,607.5 L496.9,602.3 L498.9,594.5 L501.0,584.4 L503.2,574.2 L505.5,565.9 L508.0,559.7 L510.7,554.6 L513.4,551.0 L516.1,549.2 L518.8,549.8 L521.5,552.5 L524.1,556.2 L526.6,560.2 L528.9,564.6 L531.0,569.9 L533.0,575.0 L535.0,579.3 L537.0,582.7 L539.0,585.5 L540.9,587.6 L542.7,588.5 L544.4,588.2 L546.1,586.8 L547.7,584.5 L549.4,581.3 L551.1,576.7 L552.7,570.8 L554.4,564.9 L556.1,560.2 L557.9,557.0 L559.8,554.6 L561.6,553.1 L563.4,552.5 L565.0,552.8 L566.5,554.0 L568.0,556.1 L569.5,559.2 L571.1,563.8 L572.7,569.6 L574.4,575.8 L576.2,581.3 L578.2,586.6 L580.4,592.0 L582.7,596.3 L584.8,598.5 L586.8,598.0 L588.8,595.5 L590.7,591.6 L592.5,587.0 L594.2,581.0 L595.9,573.7 L597.5,566.3 L599.2,560.2 L600.9,555.8 L602.7,552.4 L604.4,549.7 L605.9,547.7 L607.0,546.4 L607.7,546.0 L608.7,546.0 L610.7,546.4 L614.2,547.1 L618.7,548.3 L623.3,549.7 L627.0,551.0 L629.4,551.8 L630.9,552.5 L632.4,553.5 L634.7,555.4 L638.0,558.9 L642.0,563.4 L646.1,568.1 L650.0,571.7 L653.5,574.2 L656.9,576.0 L660.2,577.2 L663.4,577.8 L666.4,577.5 L669.3,576.3 L672.1,574.8 L674.9,573.6 L677.8,572.5 L680.8,571.4 L683.7,570.5 L686.4,570.1 L689.0,570.5 L691.4,571.5 L693.7,572.6 L696.0,573.6 L698.2,574.5 L700.4,575.5 L702.5,576.3 L704.6,576.5 L706.7,576.1 L708.8,575.2 L710.9,574.0 L713.3,572.6 L716.0,570.7 L719.0,568.2 L722.0,566.2 L724.8,565.5 L727.3,566.7 L729.8,569.3 L732.1,572.2 L734.3,574.5 L736.4,576.3 L738.5,577.9 L740.5,579.1 L742.4,579.3 L744.3,578.2 L746.0,576.2 L747.8,573.8 L749.7,571.7 L751.8,569.9 L754.0,568.1 L756.2,566.7 L758.3,565.9 L760.2,565.8 L761.9,566.2 L763.7,567.2 L765.8,568.8 L768.4,571.8 L771.3,575.8 L774.3,579.5 L776.9,581.3 L779.1,580.6 L781.0,578.3 L782.8,575.0 L784.9,571.7 L787.4,567.7 L790.2,562.9 L792.9,558.5 L795.1,556.0 L796.7,555.6 L798.0,556.8 L799.1,559.0 L800.3,562.1 L801.7,566.5 L803.1,572.1 L804.5,578.0 L806.0,583.2 L807.5,588.2 L809.0,593.2 L810.5,596.9 L812.1,597.9 L813.9,595.4 L815.7,590.2 L817.6,583.8 L819.4,577.4 L821.1,570.7 L822.8,563.3 L824.5,556.3 L826.1,550.6 L827.6,546.4 L829.0,543.3 L830.4,541.3 L831.9,540.6 L833.5,541.3 L835.1,543.2 L836.8,546.3 L838.6,550.6 L840.4,556.6 L842.2,564.3 L844.2,572.2 L846.3,579.3 L848.8,585.7 L851.5,592.0 L854.2,597.1 L856.8,600.0 L859.1,600.2 L861.2,598.2 L863.2,594.9 L865.4,590.8 L867.7,585.4 L870.2,578.5 L872.6,571.6 L875.0,565.9 L877.4,561.6 L879.7,558.0 L882.0,555.5 L884.2,554.4 L886.3,554.9 L888.2,556.8 L890.2,559.9 L892.3,564.0 L894.7,570.6 L897.2,579.4 L899.7,587.1 L902.2,590.5 L904.6,587.8 L906.9,581.0 L909.2,572.8 L911.4,565.9 L913.5,560.2 L915.6,554.5 L917.6,549.9 L919.5,547.7 L921.4,548.2 L923.2,550.9 L925.0,555.1 L926.8,560.2 L928.6,566.9 L930.5,575.3 L932.4,583.7 L934.4,590.8 L936.6,596.4 L939.0,601.3 L941.4,604.9 L944.0,606.9 L946.7,607.1 L949.4,605.9 L952.3,603.0 L955.5,598.5 L959.3,591.2 L963.5,581.6 L967.6,571.8 L970.9,564.0 L973.2,559.0 L974.8,555.6 L976.2,553.1 L977.7,550.6 L979.5,547.9 L981.3,545.4 L983.1,543.6 L985.0,542.9 L987.0,543.4 L989.0,545.0 L991.0,547.4 L993.0,550.6 L994.8,554.9 L996.6,560.3 L998.5,566.1 L1000.7,571.7 L1003.4,577.7 L1006.4,584.3 L1009.6,589.8 L1012.6,592.8 L1015.5,592.4 L1018.3,589.6 L1021.0,585.5 L1023.7,581.3 L1026.2,576.8 L1028.6,571.5 L1030.9,566.3 L1033.3,562.1 L1035.7,558.9 L1038.0,556.3 L1040.4,554.6 L1042.8,554.0 L1045.1,554.5 L1047.5,556.0 L1049.9,558.5 L1052.4,562.1 L1055.2,567.5 L1058.2,574.5 L1061.2,581.5 L1063.9,587.0 L1066.3,590.9 L1068.5,594.0 L1070.6,595.9 L1072.9,596.6 L1075.3,595.9 L1077.8,593.8 L1080.4,590.8 L1083.1,587.0 L1085.8,582.2 L1088.5,576.3 L1091.4,570.0 L1094.6,564.0 L1098.5,557.6 L1102.8,550.7 L1107.1,544.8 L1110.9,541.6 L1113.9,541.6 L1116.5,543.9 L1118.8,547.7 L1121.4,552.5 L1124.2,558.6 L1127.2,566.3 L1130.1,574.2 L1132.9,581.3 L1135.6,587.6 L1138.2,593.5 L1140.6,598.6 L1142.5,602.3 L1143.9,604.1 L1145.0,604.3 L1145.8,603.9 L1146.3,603.7" fill="none" stroke="#f07d14" stroke-width="1.1" stroke-linejoin="round" stroke-linecap="round"/>
<rect x="41" y="495" width="1159" height="1" fill="rgb(160,160,160)"/>
<rect x="41" y="496" width="1159" height="1" fill="rgb(176,176,176)"/>
<rect x="41" y="642" width="1159" height="1" fill="rgb(68,68,68)"/>
<rect x="41" y="495" width="1" height="148" fill="rgb(236,236,236)"/>
<rect x="42" y="495" width="1" height="148" fill="rgb(160,160,160)"/>
<rect x="1199" y="495" width="1" height="148" fill="rgb(116,116,116)"/>
<line x1="39.9" y1="620.90" x2="42.5" y2="620.90" stroke="#333" stroke-width="0.9"/>
<text transform="translate(36.75,624.10) scale(0.07421,0.08200)" font-size="100" text-anchor="end" fill="#000" stroke="#000" stroke-width="1.6">4000</text>
<rect x="14.65" y="620.85" width="4.3" height="0.85" fill="#111"/>
<line x1="39.9" y1="596.76" x2="42.5" y2="596.76" stroke="#333" stroke-width="0.9"/>
<text transform="translate(36.75,599.96) scale(0.07421,0.08200)" font-size="100" text-anchor="end" fill="#000" stroke="#000" stroke-width="1.6">2000</text>
<rect x="14.65" y="596.71" width="4.3" height="0.85" fill="#111"/>
<line x1="39.9" y1="572.62" x2="42.5" y2="572.62" stroke="#333" stroke-width="0.9"/>
<text transform="translate(36.75,575.82) scale(0.07421,0.08200)" font-size="100" text-anchor="end" fill="#000" stroke="#000" stroke-width="1.6">0</text>
<line x1="39.9" y1="548.48" x2="42.5" y2="548.48" stroke="#333" stroke-width="0.9"/>
<text transform="translate(36.75,551.68) scale(0.07421,0.08200)" font-size="100" text-anchor="end" fill="#000" stroke="#000" stroke-width="1.6">2000</text>
<line x1="39.9" y1="524.34" x2="42.5" y2="524.34" stroke="#333" stroke-width="0.9"/>
<text transform="translate(36.75,527.54) scale(0.07421,0.08200)" font-size="100" text-anchor="end" fill="#000" stroke="#000" stroke-width="1.6">4000</text>
<line x1="39.9" y1="500.20" x2="42.5" y2="500.20" stroke="#333" stroke-width="0.9"/>
<text transform="translate(36.75,503.40) scale(0.07421,0.08200)" font-size="100" text-anchor="end" fill="#000" stroke="#000" stroke-width="1.6">6000</text>
<line x1="94.68" y1="642.5" x2="94.68" y2="645.1" stroke="#333" stroke-width="0.9"/>
<text transform="translate(94.68,653.60) scale(0.07421,0.08200)" font-size="100" text-anchor="middle" fill="#000" stroke="#000" stroke-width="1.6">0</text>
<line x1="236.86" y1="642.5" x2="236.86" y2="645.1" stroke="#333" stroke-width="0.9"/>
<text transform="translate(236.86,653.60) scale(0.07421,0.08200)" font-size="100" text-anchor="middle" fill="#000" stroke="#000" stroke-width="1.6">50</text>
<line x1="379.03" y1="642.5" x2="379.03" y2="645.1" stroke="#333" stroke-width="0.9"/>
<text transform="translate(379.03,653.60) scale(0.07421,0.08200)" font-size="100" text-anchor="middle" fill="#000" stroke="#000" stroke-width="1.6">100</text>
<line x1="521.21" y1="642.5" x2="521.21" y2="645.1" stroke="#333" stroke-width="0.9"/>
<text transform="translate(521.21,653.60) scale(0.07421,0.08200)" font-size="100" text-anchor="middle" fill="#000" stroke="#000" stroke-width="1.6">150</text>
<line x1="663.38" y1="642.5" x2="663.38" y2="645.1" stroke="#333" stroke-width="0.9"/>
<text transform="translate(663.38,653.60) scale(0.07421,0.08200)" font-size="100" text-anchor="middle" fill="#000" stroke="#000" stroke-width="1.6">200</text>
<line x1="805.56" y1="642.5" x2="805.56" y2="645.1" stroke="#333" stroke-width="0.9"/>
<text transform="translate(805.56,653.60) scale(0.07421,0.08200)" font-size="100" text-anchor="middle" fill="#000" stroke="#000" stroke-width="1.6">250</text>
<line x1="947.73" y1="642.5" x2="947.73" y2="645.1" stroke="#333" stroke-width="0.9"/>
<text transform="translate(947.73,653.60) scale(0.07421,0.08200)" font-size="100" text-anchor="middle" fill="#000" stroke="#000" stroke-width="1.6">300</text>
<line x1="1089.90" y1="642.5" x2="1089.90" y2="645.1" stroke="#333" stroke-width="0.9"/>
<text transform="translate(1089.90,653.60) scale(0.07421,0.08200)" font-size="100" text-anchor="middle" fill="#000" stroke="#000" stroke-width="1.6">350</text>
<text transform="translate(6.0,570.50) rotate(-90) scale(0.068,0.074)" font-size="100" text-anchor="middle" fill="#000" stroke="#000" stroke-width="2">EMD-IMF2</text>
<path d="M94.7,790.1 L95.8,790.7 L97.2,791.5 L98.9,792.4 L100.8,793.5 L102.9,794.6 L105.0,795.6 L107.2,796.5 L109.3,797.3 L111.4,797.9 L113.6,798.5 L115.8,799.1 L118.1,799.6 L120.4,800.0 L122.9,800.3 L125.4,800.5 L128.0,800.5 L130.8,800.4 L133.8,800.1 L137.0,799.7 L140.2,799.1 L143.4,798.6 L146.4,797.9 L149.3,797.2 L152.0,796.5 L154.3,795.8 L156.4,795.1 L158.4,794.4 L160.2,793.6 L162.0,792.8 L163.8,791.8 L165.8,790.6 L168.0,789.3 L170.4,787.7 L172.9,785.9 L175.6,783.9 L178.3,781.8 L181.1,779.7 L183.8,777.5 L186.6,775.4 L189.3,773.3 L192.0,771.3 L194.6,769.3 L197.2,767.4 L199.8,765.4 L202.5,763.4 L205.2,761.4 L207.9,759.4 L210.7,757.3 L213.6,755.2 L216.5,753.0 L219.5,750.8 L222.5,748.5 L225.6,746.3 L228.6,744.1 L231.7,742.0 L234.7,740.0 L237.7,738.1 L240.6,736.3 L243.5,734.5 L246.4,732.8 L249.3,731.1 L252.3,729.5 L255.4,727.8 L258.7,726.1 L262.1,724.4 L265.7,722.6 L269.3,720.9 L273.0,719.2 L276.8,717.5 L280.6,715.8 L284.3,714.3 L288.0,712.8 L291.7,711.4 L295.4,710.2 L299.1,709.0 L302.8,707.9 L306.5,706.8 L310.2,705.7 L313.8,704.6 L317.3,703.5 L320.8,702.4 L324.2,701.2 L327.6,700.1 L331.0,699.0 L334.3,697.9 L337.6,696.8 L340.8,695.8 L344.0,694.7 L347.1,693.7 L350.0,692.7 L352.8,691.7 L355.7,690.7 L358.5,689.7 L361.5,688.7 L364.6,687.7 L368.0,686.7 L371.8,685.6 L375.9,684.5 L380.3,683.3 L384.8,682.2 L389.1,681.0 L393.2,679.9 L396.9,678.9 L400.0,678.0 L402.5,677.2 L404.5,676.4 L406.1,675.8 L407.5,675.1 L408.7,674.6 L409.8,674.0 L410.8,673.5 L412.0,673.0 L413.1,672.5 L414.1,672.1 L414.9,671.7 L415.8,671.4 L416.6,671.0 L417.5,670.7 L418.6,670.3 L420.0,670.0 L421.6,669.6 L423.4,669.1 L425.3,668.6 L427.4,668.2 L429.5,667.8 L431.7,667.5 L433.8,667.3 L436.0,667.4 L438.2,667.6 L440.4,668.0 L442.7,668.5 L445.0,669.1 L447.3,669.9 L449.6,670.7 L451.8,671.8 L454.0,673.0 L456.1,674.4 L458.1,676.0 L460.1,677.8 L462.1,679.8 L464.1,681.8 L466.0,683.9 L468.0,686.0 L470.0,688.0 L472.0,690.1 L474.1,692.3 L476.3,694.6 L478.4,696.9 L480.4,699.1 L482.4,701.3 L484.3,703.2 L486.0,705.0 L487.5,706.5 L488.8,707.9 L489.9,709.0 L490.9,710.1 L492.0,711.1 L493.1,712.1 L494.5,713.0 L496.0,714.0 L497.8,715.1 L499.8,716.2 L502.0,717.3 L504.2,718.4 L506.5,719.3 L508.7,720.1 L510.9,720.7 L513.0,721.0 L515.0,721.0 L516.9,720.7 L518.7,720.2 L520.6,719.6 L522.4,718.8 L524.2,717.9 L526.1,716.9 L528.0,716.0 L530.0,715.0 L532.1,713.7 L534.2,712.4 L536.3,711.0 L538.4,709.6 L540.4,708.3 L542.3,707.0 L544.0,706.0 L545.5,705.1 L546.9,704.3 L548.1,703.7 L549.2,703.0 L550.4,702.5 L551.5,702.0 L552.7,701.5 L554.0,701.0 L555.4,700.5 L556.8,700.1 L558.3,699.6 L559.8,699.2 L561.3,698.9 L562.8,698.6 L564.4,698.5 L566.0,698.4 L567.6,698.5 L569.2,698.6 L570.8,698.8 L572.5,699.2 L574.2,699.5 L576.0,700.0 L577.9,700.5 L580.0,701.0 L582.2,701.6 L584.7,702.3 L587.2,703.1 L589.9,703.9 L592.5,704.7 L595.1,705.5 L597.7,706.3 L600.0,707.0 L602.1,707.7 L604.1,708.3 L605.9,708.9 L607.8,709.5 L609.6,710.1 L611.5,710.6 L613.6,711.1 L616.0,711.6 L618.6,712.0 L621.3,712.5 L624.2,712.9 L627.1,713.3 L630.2,713.7 L633.4,713.9 L636.7,714.0 L640.0,714.0 L643.6,713.8 L647.4,713.5 L651.4,713.0 L655.5,712.5 L659.5,711.9 L663.3,711.3 L666.9,710.6 L670.0,710.0 L672.7,709.4 L674.9,708.8 L676.9,708.2 L678.8,707.5 L680.5,706.8 L682.2,706.1 L684.0,705.3 L686.0,704.4 L688.1,703.4 L690.3,702.3 L692.5,701.1 L694.8,699.9 L697.0,698.6 L699.3,697.4 L701.6,696.2 L704.0,695.0 L706.4,693.8 L709.0,692.6 L711.6,691.4 L714.2,690.2 L716.9,689.1 L719.4,688.0 L721.8,687.1 L724.0,686.4 L726.0,685.9 L727.7,685.4 L729.3,685.2 L730.9,685.0 L732.4,684.9 L734.1,684.9 L735.9,684.9 L738.0,685.0 L740.3,685.1 L742.8,685.4 L745.5,685.7 L748.2,686.0 L751.1,686.5 L754.0,686.9 L757.0,687.5 L760.0,688.0 L763.1,688.6 L766.5,689.3 L770.0,690.0 L773.5,690.8 L777.0,691.6 L780.2,692.4 L783.3,693.2 L786.0,694.0 L788.3,694.7 L790.2,695.3 L791.9,695.8 L793.4,696.4 L794.8,697.0 L796.4,697.8 L798.0,698.8 L800.0,700.0 L802.3,701.6 L804.8,703.4 L807.4,705.5 L810.1,707.7 L812.8,709.9 L815.4,712.1 L817.8,714.2 L820.0,716.0 L821.9,717.6 L823.6,719.2 L825.1,720.6 L826.5,722.0 L827.9,723.4 L829.2,724.6 L830.6,725.8 L832.0,727.0 L833.5,728.1 L835.1,729.2 L836.6,730.3 L838.2,731.3 L839.7,732.2 L841.2,733.0 L842.6,733.8 L844.0,734.4 L845.2,735.0 L846.4,735.5 L847.4,735.9 L848.4,736.2 L849.5,736.4 L850.5,736.5 L851.7,736.5 L853.0,736.4 L854.4,736.2 L855.9,735.9 L857.4,735.5 L858.9,735.0 L860.6,734.3 L862.3,733.4 L864.1,732.4 L866.0,731.0 L868.0,729.4 L870.2,727.4 L872.5,725.3 L874.8,722.9 L877.2,720.5 L879.5,717.9 L881.8,715.2 L884.0,712.5 L886.1,709.7 L888.1,706.6 L890.0,703.3 L892.0,700.0 L893.9,696.7 L895.9,693.6 L898.0,690.6 L900.3,688.0 L902.7,685.6 L905.4,683.4 L908.1,681.3 L910.9,679.4 L913.7,677.6 L916.4,676.0 L919.0,674.7 L921.3,673.5 L923.3,672.6 L925.1,672.0 L926.6,671.5 L928.1,671.3 L929.7,671.2 L931.3,671.2 L933.1,671.2 L935.3,671.2 L937.7,671.2 L940.4,671.3 L943.2,671.5 L946.1,671.8 L949.2,672.1 L952.3,672.5 L955.5,673.0 L958.7,673.5 L962.1,674.2 L965.7,674.9 L969.4,675.8 L973.1,676.8 L976.9,677.7 L980.4,678.7 L983.7,679.6 L986.7,680.5 L989.3,681.3 L991.6,682.0 L993.7,682.7 L995.6,683.4 L997.4,684.2 L999.2,684.9 L1001.0,685.8 L1003.0,686.8 L1005.0,687.9 L1007.0,689.0 L1009.0,690.2 L1011.0,691.4 L1013.0,692.7 L1015.1,694.2 L1017.1,695.7 L1019.3,697.3 L1021.5,699.1 L1023.8,701.0 L1026.1,703.0 L1028.5,705.1 L1030.9,707.3 L1033.3,709.5 L1035.6,711.6 L1038.0,713.7 L1040.4,715.8 L1042.8,717.9 L1045.2,720.1 L1047.6,722.3 L1050.0,724.4 L1052.4,726.4 L1054.6,728.3 L1056.7,730.0 L1058.7,731.5 L1060.5,732.9 L1062.2,734.2 L1063.8,735.3 L1065.5,736.4 L1067.1,737.4 L1068.9,738.4 L1070.7,739.3 L1072.6,740.2 L1074.6,741.0 L1076.6,741.7 L1078.7,742.4 L1080.8,743.1 L1082.9,743.6 L1084.9,744.1 L1087.0,744.5 L1089.0,744.8 L1090.9,745.0 L1092.8,745.2 L1094.7,745.3 L1096.7,745.3 L1098.7,745.3 L1100.9,745.3 L1103.3,745.2 L1105.9,745.1 L1108.7,745.0 L1111.7,744.8 L1114.8,744.5 L1117.9,744.3 L1120.9,744.0 L1123.9,743.8 L1126.7,743.5 L1129.5,743.2 L1132.4,742.9 L1135.3,742.6 L1138.1,742.2 L1140.7,741.9 L1143.0,741.6 L1145.0,741.4 L1146.5,741.2" fill="none" stroke="#f07d14" stroke-width="1.1" stroke-linejoin="round" stroke-linecap="round"/>
<rect x="41" y="661" width="1159" height="1" fill="rgb(68,68,68)"/>
<rect x="41" y="806" width="1159" height="1" fill="rgb(235,235,235)"/>
<rect x="41" y="807" width="1159" height="1" fill="rgb(119,119,119)"/>
<rect x="41" y="661" width="1" height="147" fill="rgb(236,236,236)"/>
<rect x="42" y="661" width="1" height="147" fill="rgb(160,160,160)"/>
<rect x="1199" y="661" width="1" height="147" fill="rgb(116,116,116)"/>
<line x1="39.9" y1="789.30" x2="42.5" y2="789.30" stroke="#333" stroke-width="0.9"/>
<text transform="translate(36.75,792.50) scale(0.07421,0.08200)" font-size="100" text-anchor="end" fill="#000" stroke="#000" stroke-width="1.6">20000</text>
<rect x="10.52" y="789.25" width="4.3" height="0.85" fill="#111"/>
<line x1="39.9" y1="768.62" x2="42.5" y2="768.62" stroke="#333" stroke-width="0.9"/>
<text transform="translate(36.75,771.82) scale(0.07421,0.08200)" font-size="100" text-anchor="end" fill="#000" stroke="#000" stroke-width="1.6">15000</text>
<rect x="10.52" y="768.57" width="4.3" height="0.85" fill="#111"/>
<line x1="39.9" y1="747.93" x2="42.5" y2="747.93" stroke="#333" stroke-width="0.9"/>
<text transform="translate(36.75,751.13) scale(0.07421,0.08200)" font-size="100" text-anchor="end" fill="#000" stroke="#000" stroke-width="1.6">10000</text>
<rect x="10.52" y="747.88" width="4.3" height="0.85" fill="#111"/>
<line x1="39.9" y1="727.25" x2="42.5" y2="727.25" stroke="#333" stroke-width="0.9"/>
<text transform="translate(36.75,730.45) scale(0.07421,0.08200)" font-size="100" text-anchor="end" fill="#000" stroke="#000" stroke-width="1.6">5000</text>
<rect x="14.65" y="727.20" width="4.3" height="0.85" fill="#111"/>
<line x1="39.9" y1="706.57" x2="42.5" y2="706.57" stroke="#333" stroke-width="0.9"/>
<text transform="translate(36.75,709.77) scale(0.07421,0.08200)" font-size="100" text-anchor="end" fill="#000" stroke="#000" stroke-width="1.6">0</text>
<line x1="39.9" y1="685.88" x2="42.5" y2="685.88" stroke="#333" stroke-width="0.9"/>
<text transform="translate(36.75,689.08) scale(0.07421,0.08200)" font-size="100" text-anchor="end" fill="#000" stroke="#000" stroke-width="1.6">5000</text>
<line x1="39.9" y1="665.20" x2="42.5" y2="665.20" stroke="#333" stroke-width="0.9"/>
<text transform="translate(36.75,668.40) scale(0.07421,0.08200)" font-size="100" text-anchor="end" fill="#000" stroke="#000" stroke-width="1.6">10000</text>
<line x1="94.68" y1="807.45" x2="94.68" y2="810.0500000000001" stroke="#333" stroke-width="0.9"/>
<text transform="translate(94.68,818.05) scale(0.07421,0.08200)" font-size="100" text-anchor="middle" fill="#000" stroke="#000" stroke-width="1.6">0</text>
<line x1="236.86" y1="807.45" x2="236.86" y2="810.0500000000001" stroke="#333" stroke-width="0.9"/>
<text transform="translate(236.86,818.05) scale(0.07421,0.08200)" font-size="100" text-anchor="middle" fill="#000" stroke="#000" stroke-width="1.6">50</text>
<line x1="379.03" y1="807.45" x2="379.03" y2="810.0500000000001" stroke="#333" stroke-width="0.9"/>
<text transform="translate(379.03,818.05) scale(0.07421,0.08200)" font-size="100" text-anchor="middle" fill="#000" stroke="#000" stroke-width="1.6">100</text>
<line x1="521.21" y1="807.45" x2="521.21" y2="810.0500000000001" stroke="#333" stroke-width="0.9"/>
<text transform="translate(521.21,818.05) scale(0.07421,0.08200)" font-size="100" text-anchor="middle" fill="#000" stroke="#000" stroke-width="1.6">150</text>
<line x1="663.38" y1="807.45" x2="663.38" y2="810.0500000000001" stroke="#333" stroke-width="0.9"/>
<text transform="translate(663.38,818.05) scale(0.07421,0.08200)" font-size="100" text-anchor="middle" fill="#000" stroke="#000" stroke-width="1.6">200</text>
<line x1="805.56" y1="807.45" x2="805.56" y2="810.0500000000001" stroke="#333" stroke-width="0.9"/>
<text transform="translate(805.56,818.05) scale(0.07421,0.08200)" font-size="100" text-anchor="middle" fill="#000" stroke="#000" stroke-width="1.6">250</text>
<line x1="947.73" y1="807.45" x2="947.73" y2="810.0500000000001" stroke="#333" stroke-width="0.9"/>
<text transform="translate(947.73,818.05) scale(0.07421,0.08200)" font-size="100" text-anchor="middle" fill="#000" stroke="#000" stroke-width="1.6">300</text>
<line x1="1089.90" y1="807.45" x2="1089.90" y2="810.0500000000001" stroke="#333" stroke-width="0.9"/>
<text transform="translate(1089.90,818.05) scale(0.07421,0.08200)" font-size="100" text-anchor="middle" fill="#000" stroke="#000" stroke-width="1.6">350</text>
<text transform="translate(6.0,735.77) rotate(-90) scale(0.068,0.074)" font-size="100" text-anchor="middle" fill="#000" stroke="#000" stroke-width="2">EMD-IMF3</text>
<path d="M94.7,839.3 L97.5,839.1 L101.0,838.9 L105.2,838.6 L109.9,838.2 L115.0,837.9 L120.3,837.5 L125.7,837.1 L131.1,836.8 L136.4,836.4 L141.3,836.1 L146.1,835.8 L150.9,835.5 L155.7,835.2 L160.5,834.9 L165.4,834.7 L170.2,834.4 L175.0,834.2 L179.8,833.9 L184.6,833.7 L189.3,833.5 L194.0,833.3 L198.6,833.1 L203.3,833.0 L207.9,832.8 L212.5,832.7 L217.1,832.6 L221.6,832.5 L226.0,832.4 L230.4,832.4 L234.7,832.4 L238.9,832.4 L243.0,832.5 L247.1,832.6 L251.1,832.7 L255.0,832.9 L259.0,833.1 L262.9,833.3 L266.8,833.5 L270.7,833.7 L274.7,834.0 L278.7,834.3 L282.9,834.6 L287.0,834.9 L291.2,835.3 L295.4,835.7 L299.5,836.1 L303.5,836.5 L307.4,837.0 L311.1,837.5 L314.7,838.0 L318.1,838.6 L321.3,839.1 L324.4,839.8 L327.3,840.4 L330.2,841.1 L333.0,841.8 L335.7,842.5 L338.5,843.2 L341.2,844.0 L344.0,844.7 L346.8,845.4 L349.5,846.2 L352.1,846.9 L354.7,847.7 L357.3,848.5 L360.0,849.3 L362.6,850.1 L365.2,850.9 L367.9,851.8 L370.7,852.7 L373.5,853.6 L376.2,854.5 L379.0,855.4 L381.7,856.3 L384.5,857.3 L387.4,858.3 L390.3,859.3 L393.4,860.5 L396.6,861.8 L400.0,863.3 L403.6,864.9 L407.3,866.6 L411.2,868.4 L415.2,870.4 L419.3,872.4 L423.5,874.5 L427.7,876.6 L431.8,878.8 L436.0,881.0 L440.0,883.3 L444.0,885.6 L448.0,888.0 L452.0,890.5 L456.0,893.1 L460.0,895.7 L464.0,898.3 L468.0,900.9 L472.0,903.5 L476.0,906.1 L480.0,908.7 L484.0,911.3 L488.0,913.9 L492.0,916.5 L496.0,919.1 L500.0,921.7 L504.0,924.3 L508.0,926.8 L512.0,929.3 L516.0,931.7 L520.0,934.0 L524.1,936.3 L528.2,938.5 L532.4,940.8 L536.6,942.9 L540.8,945.0 L545.0,947.1 L549.0,949.0 L552.9,950.8 L556.5,952.5 L560.0,954.0 L563.2,955.3 L566.2,956.5 L569.0,957.6 L571.6,958.5 L574.2,959.3 L576.7,960.0 L579.1,960.7 L581.6,961.3 L584.1,961.9 L586.7,962.5 L589.4,963.1 L592.0,963.6 L594.7,964.1 L597.3,964.6 L600.0,965.0 L602.7,965.3 L605.3,965.6 L608.0,965.8 L610.6,966.0 L613.3,966.0 L616.0,966.0 L618.6,965.8 L621.3,965.6 L624.0,965.3 L626.6,964.9 L629.3,964.5 L632.0,964.1 L634.7,963.6 L637.3,963.1 L640.0,962.5 L642.7,961.9 L645.3,961.3 L648.0,960.6 L650.7,959.9 L653.4,959.1 L656.0,958.4 L658.7,957.5 L661.4,956.7 L664.0,955.7 L666.7,954.8 L669.4,953.8 L672.2,952.7 L675.0,951.5 L677.8,950.3 L680.6,949.1 L683.4,947.8 L686.1,946.6 L688.6,945.4 L691.0,944.3 L693.3,943.3 L695.3,942.4 L696.9,941.7 L698.3,941.1 L699.6,940.5 L700.8,939.9 L702.1,939.3 L703.6,938.6 L705.3,937.7 L707.4,936.6 L710.0,935.3 L713.1,933.7 L716.5,931.9 L720.3,929.9 L724.3,927.8 L728.5,925.6 L732.9,923.3 L737.3,920.9 L741.6,918.6 L745.9,916.2 L750.0,914.0 L754.0,911.8 L758.0,909.5 L762.0,907.2 L766.0,904.8 L770.0,902.5 L774.0,900.2 L778.0,897.9 L782.0,895.6 L786.0,893.4 L790.0,891.3 L794.0,889.3 L798.0,887.3 L802.0,885.3 L806.0,883.4 L810.0,881.5 L814.0,879.7 L818.0,877.9 L822.0,876.1 L826.0,874.4 L830.0,872.7 L834.0,871.0 L838.0,869.4 L842.0,867.8 L846.0,866.3 L850.0,864.8 L854.0,863.3 L858.0,861.9 L862.0,860.5 L866.0,859.2 L870.0,858.0 L874.0,856.8 L878.0,855.8 L882.0,854.8 L886.0,853.8 L890.0,852.9 L894.0,852.1 L898.0,851.2 L902.0,850.4 L906.0,849.6 L910.0,848.7 L914.0,847.8 L918.0,847.0 L922.0,846.1 L926.0,845.2 L930.0,844.4 L934.0,843.6 L938.0,842.8 L942.0,842.1 L946.0,841.4 L950.0,840.7 L954.1,840.1 L958.2,839.5 L962.4,839.0 L966.6,838.5 L970.7,838.1 L974.8,837.7 L978.9,837.3 L982.7,836.9 L986.5,836.5 L990.0,836.2 L993.3,835.9 L996.4,835.6 L999.3,835.4 L1002.2,835.1 L1004.9,834.9 L1007.5,834.7 L1010.2,834.6 L1012.8,834.4 L1015.5,834.3 L1018.3,834.1 L1021.1,834.0 L1024.0,833.8 L1026.8,833.7 L1029.7,833.6 L1032.5,833.5 L1035.3,833.4 L1038.2,833.3 L1041.0,833.2 L1043.9,833.2 L1046.7,833.1 L1049.5,833.0 L1052.4,833.0 L1055.2,832.9 L1058.0,832.9 L1060.9,832.9 L1063.7,832.8 L1066.5,832.8 L1069.3,832.8 L1072.2,832.8 L1075.0,832.8 L1077.8,832.8 L1080.7,832.9 L1083.5,832.9 L1086.3,833.0 L1089.2,833.0 L1092.0,833.1 L1094.8,833.2 L1097.6,833.3 L1100.5,833.3 L1103.3,833.4 L1106.2,833.5 L1109.2,833.5 L1112.2,833.6 L1115.3,833.7 L1118.3,833.8 L1121.2,833.9 L1124.1,834.0 L1126.8,834.0 L1129.3,834.1 L1131.6,834.2 L1133.7,834.3 L1135.7,834.4 L1137.5,834.4 L1139.2,834.5 L1140.8,834.6 L1142.3,834.7 L1143.5,834.7 L1144.7,834.8 L1145.7,834.9 L1146.5,834.9" fill="none" stroke="#f07d14" stroke-width="1.1" stroke-linejoin="round" stroke-linecap="round"/>
<rect x="41" y="826" width="1159" height="1" fill="rgb(42,42,42)"/>
<rect x="41" y="972" width="1159" height="1" fill="rgb(119,119,119)"/>
<rect x="41" y="973" width="1159" height="1" fill="rgb(225,225,225)"/>
<rect x="41" y="826" width="1" height="147" fill="rgb(236,236,236)"/>
<rect x="42" y="826" width="1" height="147" fill="rgb(160,160,160)"/>
<rect x="1199" y="826" width="1" height="147" fill="rgb(116,116,116)"/>
<line x1="39.9" y1="957.10" x2="42.5" y2="957.10" stroke="#333" stroke-width="0.9"/>
<text transform="translate(36.75,960.30) scale(0.07421,0.08200)" font-size="100" text-anchor="end" fill="#000" stroke="#000" stroke-width="1.6">10000</text>
<rect x="10.52" y="957.05" width="4.3" height="0.85" fill="#111"/>
<line x1="39.9" y1="928.50" x2="42.5" y2="928.50" stroke="#333" stroke-width="0.9"/>
<text transform="translate(36.75,931.70) scale(0.07421,0.08200)" font-size="100" text-anchor="end" fill="#000" stroke="#000" stroke-width="1.6">5000</text>
<rect x="14.65" y="928.45" width="4.3" height="0.85" fill="#111"/>
<line x1="39.9" y1="899.90" x2="42.5" y2="899.90" stroke="#333" stroke-width="0.9"/>
<text transform="translate(36.75,903.10) scale(0.07421,0.08200)" font-size="100" text-anchor="end" fill="#000" stroke="#000" stroke-width="1.6">0</text>
<line x1="39.9" y1="871.30" x2="42.5" y2="871.30" stroke="#333" stroke-width="0.9"/>
<text transform="translate(36.75,874.50) scale(0.07421,0.08200)" font-size="100" text-anchor="end" fill="#000" stroke="#000" stroke-width="1.6">5000</text>
<line x1="39.9" y1="842.70" x2="42.5" y2="842.70" stroke="#333" stroke-width="0.9"/>
<text transform="translate(36.75,845.90) scale(0.07421,0.08200)" font-size="100" text-anchor="end" fill="#000" stroke="#000" stroke-width="1.6">10000</text>
<line x1="94.68" y1="972.6" x2="94.68" y2="975.2" stroke="#333" stroke-width="0.9"/>
<text transform="translate(94.68,983.40) scale(0.07421,0.08200)" font-size="100" text-anchor="middle" fill="#000" stroke="#000" stroke-width="1.6">0</text>
<line x1="236.86" y1="972.6" x2="236.86" y2="975.2" stroke="#333" stroke-width="0.9"/>
<text transform="translate(236.86,983.40) scale(0.07421,0.08200)" font-size="100" text-anchor="middle" fill="#000" stroke="#000" stroke-width="1.6">50</text>
<line x1="379.03" y1="972.6" x2="379.03" y2="975.2" stroke="#333" stroke-width="0.9"/>
<text transform="translate(379.03,983.40) scale(0.07421,0.08200)" font-size="100" text-anchor="middle" fill="#000" stroke="#000" stroke-width="1.6">100</text>
<line x1="521.21" y1="972.6" x2="521.21" y2="975.2" stroke="#333" stroke-width="0.9"/>
<text transform="translate(521.21,983.40) scale(0.07421,0.08200)" font-size="100" text-anchor="middle" fill="#000" stroke="#000" stroke-width="1.6">150</text>
<line x1="663.38" y1="972.6" x2="663.38" y2="975.2" stroke="#333" stroke-width="0.9"/>
<text transform="translate(663.38,983.40) scale(0.07421,0.08200)" font-size="100" text-anchor="middle" fill="#000" stroke="#000" stroke-width="1.6">200</text>
<line x1="805.56" y1="972.6" x2="805.56" y2="975.2" stroke="#333" stroke-width="0.9"/>
<text transform="translate(805.56,983.40) scale(0.07421,0.08200)" font-size="100" text-anchor="middle" fill="#000" stroke="#000" stroke-width="1.6">250</text>
<line x1="947.73" y1="972.6" x2="947.73" y2="975.2" stroke="#333" stroke-width="0.9"/>
<text transform="translate(947.73,983.40) scale(0.07421,0.08200)" font-size="100" text-anchor="middle" fill="#000" stroke="#000" stroke-width="1.6">300</text>
<line x1="1089.90" y1="972.6" x2="1089.90" y2="975.2" stroke="#333" stroke-width="0.9"/>
<text transform="translate(1089.90,983.40) scale(0.07421,0.08200)" font-size="100" text-anchor="middle" fill="#000" stroke="#000" stroke-width="1.6">350</text>
<text transform="translate(6.0,900.75) rotate(-90) scale(0.068,0.074)" font-size="100" text-anchor="middle" fill="#000" stroke="#000" stroke-width="2">EMD-IMF4</text>
<path d="M94.7,998.4 L97.4,998.5 L100.9,998.7 L105.0,998.9 L109.7,999.1 L114.7,999.4 L119.9,999.6 L125.4,999.9 L130.8,1000.2 L136.2,1000.5 L141.3,1000.8 L146.4,1001.1 L151.7,1001.5 L157.2,1001.8 L162.7,1002.2 L168.2,1002.6 L173.8,1003.0 L179.3,1003.4 L184.6,1003.8 L189.8,1004.1 L194.7,1004.5 L199.4,1004.9 L204.0,1005.2 L208.4,1005.5 L212.8,1005.9 L217.0,1006.2 L221.2,1006.5 L225.2,1006.9 L229.3,1007.2 L233.3,1007.6 L237.3,1008.0 L241.2,1008.4 L245.1,1008.8 L248.8,1009.3 L252.5,1009.8 L256.2,1010.2 L259.8,1010.7 L263.5,1011.2 L267.1,1011.6 L270.9,1012.1 L274.7,1012.5 L278.6,1012.9 L282.5,1013.3 L286.5,1013.7 L290.5,1014.1 L294.5,1014.5 L298.6,1014.9 L302.6,1015.3 L306.7,1015.7 L310.7,1016.1 L314.7,1016.5 L318.7,1016.9 L322.6,1017.4 L326.5,1017.8 L330.4,1018.3 L334.4,1018.8 L338.3,1019.2 L342.3,1019.7 L346.4,1020.2 L350.5,1020.8 L354.7,1021.3 L359.0,1021.9 L363.3,1022.4 L367.6,1023.0 L372.1,1023.6 L376.5,1024.2 L381.0,1024.8 L385.7,1025.5 L390.3,1026.1 L395.1,1026.8 L400.0,1027.5 L405.0,1028.2 L410.1,1028.9 L415.4,1029.7 L420.7,1030.4 L426.1,1031.2 L431.6,1032.0 L437.1,1032.8 L442.5,1033.6 L447.9,1034.4 L453.3,1035.2 L458.6,1036.0 L464.0,1036.9 L469.3,1037.8 L474.7,1038.7 L480.0,1039.6 L485.3,1040.5 L490.7,1041.4 L496.0,1042.3 L501.4,1043.1 L506.7,1044.0 L512.0,1044.8 L517.4,1045.6 L522.7,1046.4 L528.0,1047.2 L533.4,1048.0 L538.7,1048.7 L544.0,1049.5 L549.3,1050.3 L554.7,1051.2 L560.0,1052.0 L565.3,1052.9 L570.7,1053.8 L576.0,1054.7 L581.3,1055.7 L586.6,1056.7 L592.0,1057.6 L597.3,1058.6 L602.6,1059.5 L608.0,1060.4 L613.3,1061.3 L618.7,1062.2 L624.1,1063.0 L629.6,1063.8 L635.1,1064.7 L640.6,1065.5 L646.1,1066.3 L651.4,1067.0 L656.7,1067.8 L661.8,1068.6 L666.7,1069.3 L671.4,1070.0 L675.8,1070.7 L680.1,1071.3 L684.3,1071.9 L688.4,1072.6 L692.4,1073.2 L696.6,1073.8 L700.9,1074.5 L705.3,1075.2 L710.0,1076.0 L714.9,1076.8 L720.0,1077.7 L725.3,1078.6 L730.6,1079.6 L736.0,1080.6 L741.5,1081.5 L747.0,1082.5 L752.5,1083.5 L757.9,1084.4 L763.3,1085.3 L768.6,1086.2 L774.0,1087.0 L779.3,1087.8 L784.7,1088.6 L790.0,1089.4 L795.3,1090.2 L800.7,1090.9 L806.0,1091.7 L811.4,1092.5 L816.7,1093.3 L822.0,1094.1 L827.4,1094.9 L832.7,1095.7 L838.0,1096.5 L843.4,1097.3 L848.7,1098.1 L854.0,1098.9 L859.3,1099.7 L864.7,1100.5 L870.0,1101.3 L875.3,1102.1 L880.6,1102.9 L885.9,1103.7 L891.2,1104.6 L896.4,1105.4 L901.7,1106.2 L907.1,1107.0 L912.4,1107.8 L917.8,1108.6 L923.3,1109.3 L929.0,1110.0 L934.8,1110.7 L940.9,1111.5 L947.0,1112.2 L953.1,1112.8 L959.1,1113.5 L964.8,1114.1 L970.3,1114.7 L975.4,1115.3 L980.0,1115.8 L984.1,1116.3 L987.7,1116.7 L991.0,1117.0 L993.9,1117.4 L996.7,1117.7 L999.3,1118.0 L1001.8,1118.3 L1004.4,1118.6 L1007.1,1118.9 L1010.0,1119.2 L1013.0,1119.6 L1016.0,1119.9 L1019.0,1120.3 L1022.0,1120.7 L1025.0,1121.0 L1028.0,1121.4 L1031.0,1121.8 L1034.0,1122.1 L1037.0,1122.5 L1040.0,1122.8 L1043.0,1123.1 L1046.0,1123.4 L1049.0,1123.8 L1052.0,1124.1 L1055.0,1124.4 L1058.0,1124.7 L1061.0,1124.9 L1064.0,1125.2 L1067.0,1125.5 L1070.0,1125.8 L1073.0,1126.1 L1076.0,1126.4 L1079.0,1126.6 L1082.0,1126.9 L1085.0,1127.2 L1088.0,1127.5 L1091.0,1127.7 L1094.0,1128.0 L1097.0,1128.2 L1100.0,1128.5 L1103.1,1128.7 L1106.2,1129.0 L1109.4,1129.2 L1112.6,1129.5 L1115.8,1129.7 L1119.0,1130.0 L1122.0,1130.2 L1124.9,1130.4 L1127.5,1130.6 L1130.0,1130.8 L1132.3,1130.9 L1134.4,1131.1 L1136.5,1131.2 L1138.4,1131.3 L1140.1,1131.4 L1141.7,1131.5 L1143.2,1131.6 L1144.5,1131.7 L1145.6,1131.7 L1146.5,1131.8" fill="none" stroke="#f07d14" stroke-width="1.1" stroke-linejoin="round" stroke-linecap="round"/>
<rect x="41" y="992" width="1159" height="1" fill="rgb(42,42,42)"/>
<rect x="41" y="1138" width="1159" height="1" fill="rgb(189,189,189)"/>
<rect x="41" y="1139" width="1159" height="1" fill="rgb(189,189,189)"/>
<rect x="41" y="992" width="1" height="148" fill="rgb(236,236,236)"/>
<rect x="42" y="992" width="1" height="148" fill="rgb(160,160,160)"/>
<rect x="1199" y="992" width="1" height="148" fill="rgb(116,116,116)"/>
<line x1="39.9" y1="1134.00" x2="42.5" y2="1134.00" stroke="#333" stroke-width="0.9"/>
<text transform="translate(36.75,1137.20) scale(0.07421,0.08200)" font-size="100" text-anchor="end" fill="#000" stroke="#000" stroke-width="1.6">45180</text>
<line x1="39.9" y1="1117.06" x2="42.5" y2="1117.06" stroke="#333" stroke-width="0.9"/>
<text transform="translate(36.75,1120.26) scale(0.07421,0.08200)" font-size="100" text-anchor="end" fill="#000" stroke="#000" stroke-width="1.6">45200</text>
<line x1="39.9" y1="1100.12" x2="42.5" y2="1100.12" stroke="#333" stroke-width="0.9"/>
<text transform="translate(36.75,1103.33) scale(0.07421,0.08200)" font-size="100" text-anchor="end" fill="#000" stroke="#000" stroke-width="1.6">45220</text>
<line x1="39.9" y1="1083.19" x2="42.5" y2="1083.19" stroke="#333" stroke-width="0.9"/>
<text transform="translate(36.75,1086.39) scale(0.07421,0.08200)" font-size="100" text-anchor="end" fill="#000" stroke="#000" stroke-width="1.6">45240</text>
<line x1="39.9" y1="1066.25" x2="42.5" y2="1066.25" stroke="#333" stroke-width="0.9"/>
<text transform="translate(36.75,1069.45) scale(0.07421,0.08200)" font-size="100" text-anchor="end" fill="#000" stroke="#000" stroke-width="1.6">45260</text>
<line x1="39.9" y1="1049.31" x2="42.5" y2="1049.31" stroke="#333" stroke-width="0.9"/>
<text transform="translate(36.75,1052.51) scale(0.07421,0.08200)" font-size="100" text-anchor="end" fill="#000" stroke="#000" stroke-width="1.6">45280</text>
<line x1="39.9" y1="1032.38" x2="42.5" y2="1032.38" stroke="#333" stroke-width="0.9"/>
<text transform="translate(36.75,1035.58) scale(0.07421,0.08200)" font-size="100" text-anchor="end" fill="#000" stroke="#000" stroke-width="1.6">45300</text>
<line x1="39.9" y1="1015.44" x2="42.5" y2="1015.44" stroke="#333" stroke-width="0.9"/>
<text transform="translate(36.75,1018.64) scale(0.07421,0.08200)" font-size="100" text-anchor="end" fill="#000" stroke="#000" stroke-width="1.6">45320</text>
<line x1="39.9" y1="998.50" x2="42.5" y2="998.50" stroke="#333" stroke-width="0.9"/>
<text transform="translate(36.75,1001.70) scale(0.07421,0.08200)" font-size="100" text-anchor="end" fill="#000" stroke="#000" stroke-width="1.6">45340</text>
<line x1="94.68" y1="1139.0" x2="94.68" y2="1141.6" stroke="#333" stroke-width="0.9"/>
<text transform="translate(94.68,1150.00) scale(0.07421,0.08200)" font-size="100" text-anchor="middle" fill="#000" stroke="#000" stroke-width="1.6">0</text>
<line x1="236.86" y1="1139.0" x2="236.86" y2="1141.6" stroke="#333" stroke-width="0.9"/>
<text transform="translate(236.86,1150.00) scale(0.07421,0.08200)" font-size="100" text-anchor="middle" fill="#000" stroke="#000" stroke-width="1.6">50</text>
<line x1="379.03" y1="1139.0" x2="379.03" y2="1141.6" stroke="#333" stroke-width="0.9"/>
<text transform="translate(379.03,1150.00) scale(0.07421,0.08200)" font-size="100" text-anchor="middle" fill="#000" stroke="#000" stroke-width="1.6">100</text>
<line x1="521.21" y1="1139.0" x2="521.21" y2="1141.6" stroke="#333" stroke-width="0.9"/>
<text transform="translate(521.21,1150.00) scale(0.07421,0.08200)" font-size="100" text-anchor="middle" fill="#000" stroke="#000" stroke-width="1.6">150</text>
<line x1="663.38" y1="1139.0" x2="663.38" y2="1141.6" stroke="#333" stroke-width="0.9"/>
<text transform="translate(663.38,1150.00) scale(0.07421,0.08200)" font-size="100" text-anchor="middle" fill="#000" stroke="#000" stroke-width="1.6">200</text>
<line x1="805.56" y1="1139.0" x2="805.56" y2="1141.6" stroke="#333" stroke-width="0.9"/>
<text transform="translate(805.56,1150.00) scale(0.07421,0.08200)" font-size="100" text-anchor="middle" fill="#000" stroke="#000" stroke-width="1.6">250</text>
<line x1="947.73" y1="1139.0" x2="947.73" y2="1141.6" stroke="#333" stroke-width="0.9"/>
<text transform="translate(947.73,1150.00) scale(0.07421,0.08200)" font-size="100" text-anchor="middle" fill="#000" stroke="#000" stroke-width="1.6">300</text>
<line x1="1089.90" y1="1139.0" x2="1089.90" y2="1141.6" stroke="#333" stroke-width="0.9"/>
<text transform="translate(1089.90,1150.00) scale(0.07421,0.08200)" font-size="100" text-anchor="middle" fill="#000" stroke="#000" stroke-width="1.6">350</text>
<text transform="translate(6.0,1066.75) rotate(-90) scale(0.068,0.074)" font-size="100" text-anchor="middle" fill="#000" stroke="#000" stroke-width="2">EMD-IMF5</text>
</svg></body></html>
